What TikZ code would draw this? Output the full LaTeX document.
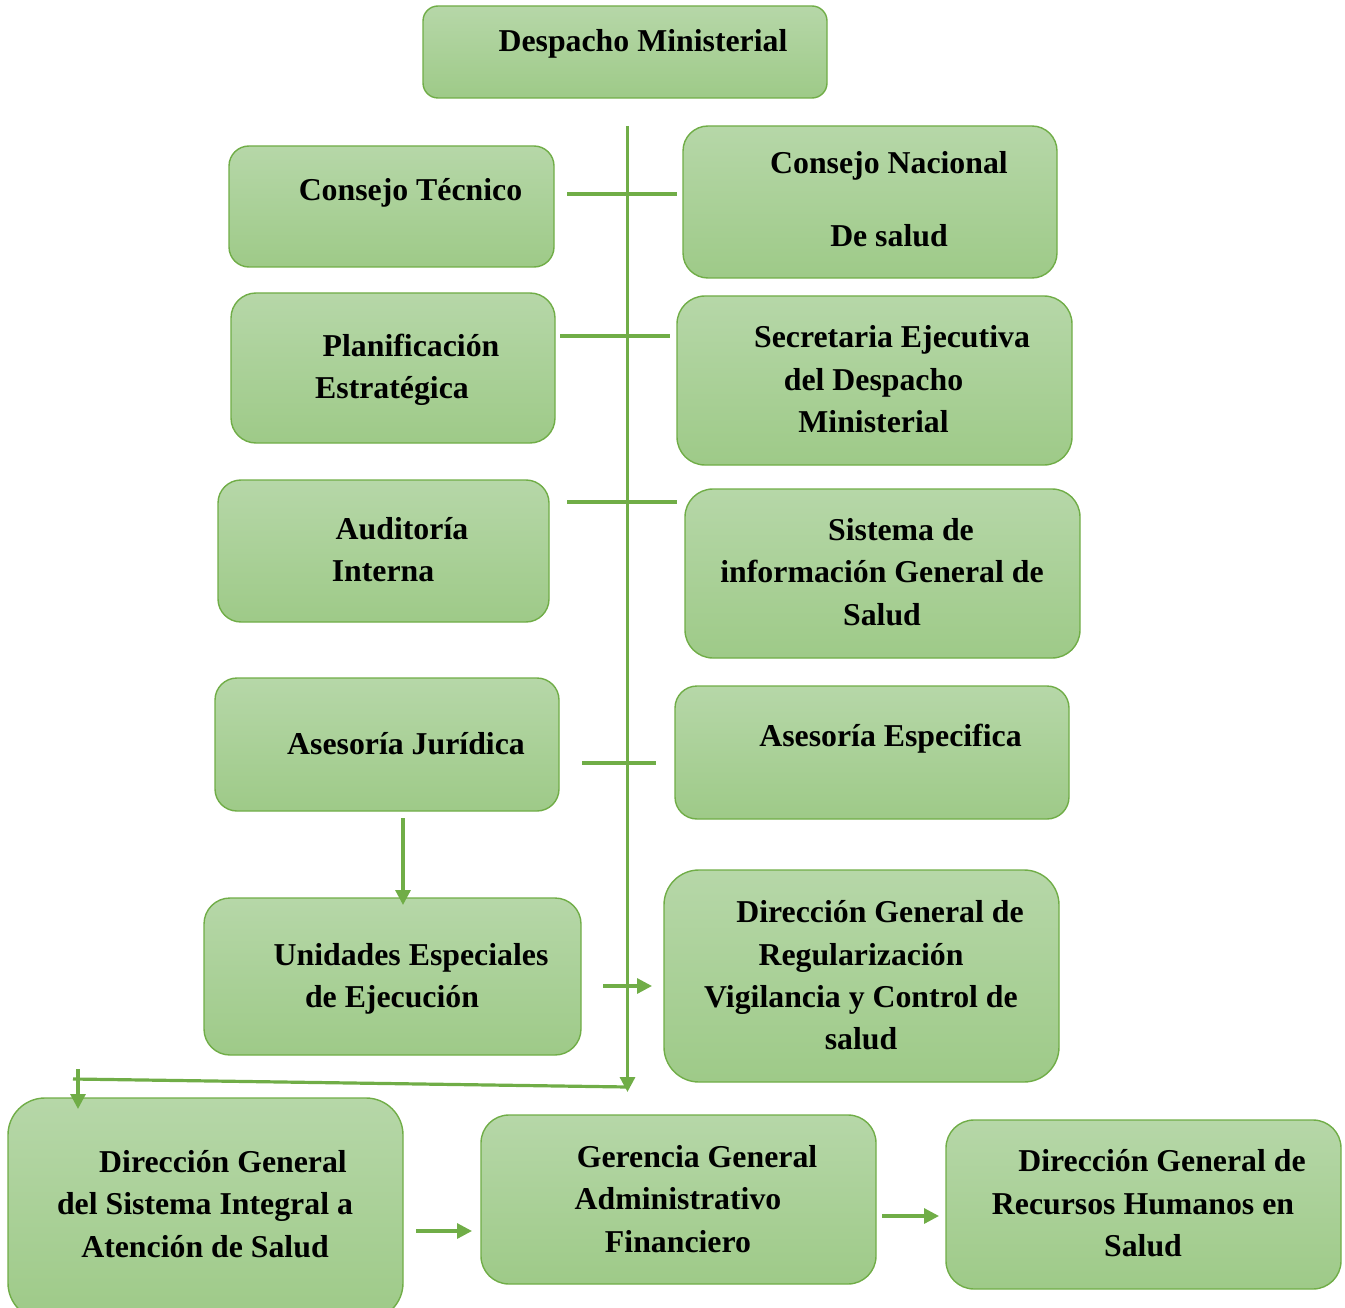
\documentclass[tikz,border=0pt]{standalone}
\usepackage{fontspec}
\setmainfont{Liberation Serif}
\usetikzlibrary{arrows.meta}
\definecolor{gTop}{RGB}{182,215,168}
\definecolor{gBot}{RGB}{158,202,136}
\definecolor{gLine}{RGB}{112,173,71}
\begin{document}
\begin{tikzpicture}[x=1pt,y=-1pt,
  box/.style={draw=gLine,line width=1.4pt,top color=gTop,bottom color=gBot,rectangle,inner sep=0pt},
  txt/.style={inner sep=0pt,align=center,font=\fontsize{31.8}{42.3}\selectfont\bfseries},
  conn/.style={draw=gLine,line width=3.2pt},
  arr/.style={conn,-{Triangle[length=15pt,width=15pt]}}]
\useasboundingbox (0,0) rectangle (1345,1308);
\begin{scope}
\clip (0,0) rectangle (1345,1308);
% boxes
\node[box,minimum width=404pt,minimum height=92pt,rounded corners=15pt] (despacho) at (625,52) {};
\node[box,minimum width=325pt,minimum height=121pt,rounded corners=20pt] (ctecnico) at (391.5,206.5) {};
\node[box,minimum width=374pt,minimum height=152pt,rounded corners=25pt] (cnacional) at (870,202) {};
\node[box,minimum width=324pt,minimum height=150pt,rounded corners=25pt] (planif) at (393,368) {};
\node[box,minimum width=395pt,minimum height=169pt,rounded corners=28pt] (secret) at (874.5,380.5) {};
\node[box,minimum width=331pt,minimum height=142pt,rounded corners=23pt] (audit) at (383.5,551) {};
\node[box,minimum width=395pt,minimum height=169pt,rounded corners=28pt] (sistema) at (882.5,573.5) {};
\node[box,minimum width=344pt,minimum height=133pt,rounded corners=22pt] (juridica) at (387,744.5) {};
\node[box,minimum width=394pt,minimum height=133pt,rounded corners=22pt] (especifica) at (872,752.5) {};
\node[box,minimum width=377pt,minimum height=157pt,rounded corners=26pt] (unidades) at (392.5,976.5) {};
\node[box,minimum width=395pt,minimum height=212pt,rounded corners=35pt] (regular) at (861.5,976) {};
\node[box,minimum width=395pt,minimum height=222pt,rounded corners=37pt] (integral) at (205.5,1209) {};
\node[box,minimum width=395pt,minimum height=169pt,rounded corners=28pt] (gerencia) at (678.5,1199.5) {};
\node[box,minimum width=395pt,minimum height=169pt,rounded corners=28pt] (rrhh) at (1143.5,1204.5) {};
\end{scope}
% texts
\node[txt] (t-despacho) at (643,43.3) {\strut Despacho Ministerial};
\node[txt] (t-ctecnico) at (410.5,192.3) {\strut Consejo Técnico};
\node[txt] (t-cnacional) at (889,201.8) {\strut Consejo Nacional\\[30.7pt]\strut De salud};
\node[txt] (t-planif) at (392,368.8) {\strut\hspace*{38pt}Planificación\\\strut Estratégica};
\node[txt] (t-secret) at (873.5,381.6) {\strut\hspace*{37pt}Secretaria Ejecutiva\\\strut del Despacho\\\strut Ministerial};
\node[txt] (t-audit) at (383,551.8) {\strut\hspace*{38pt}Auditoría\\\strut Interna};
\node[txt] (t-sistema) at (882,574.3) {\strut\hspace*{38pt}Sistema de\\\strut información General de\\\strut Salud};
\node[txt] (t-juridica) at (406,746.3) {\strut Asesoría Jurídica};
\node[txt] (t-especifica) at (890.5,738.3) {\strut Asesoría Especifica};
\node[txt] (t-unidades) at (392,977.8) {\strut\hspace*{38pt}Unidades Especiales\\\strut de Ejecución};
\node[txt] (t-regular) at (861,977.8) {\strut\hspace*{38pt}Dirección General de\\\strut Regularización\\\strut Vigilancia y Control de\\\strut salud};
\node[txt] (t-integral) at (205,1206.3) {\strut\hspace*{36pt}Dirección General\\\strut del Sistema Integral a\\\strut Atención de Salud};
\node[txt] (t-gerencia) at (678,1201.3) {\strut\hspace*{38pt}Gerencia General\\\strut Administrativo\\\strut Financiero};
\node[txt] (t-rrhh) at (1143,1205.6) {\strut\hspace*{38pt}Dirección General de\\\strut Recursos Humanos en\\\strut Salud};
% connector coordinates
\coordinate (vtop) at (627.5,126);
\coordinate (vbot) at (627.5,1092);
\coordinate (h1a) at (567,194); \coordinate (h1b) at (677,194);
\coordinate (h2a) at (560,336); \coordinate (h2b) at (670,336);
\coordinate (h3a) at (567,502); \coordinate (h3b) at (677,502);
\coordinate (h4a) at (582,763); \coordinate (h4b) at (656,763);
\coordinate (ra) at (603,986); \coordinate (rb) at (652,986);
\coordinate (ja) at (403,818); \coordinate (jb) at (403,905);
\coordinate (la) at (627.5,1087); \coordinate (lb) at (73,1079);
\coordinate (ta) at (78,1069); \coordinate (tb) at (78,1109);
\coordinate (ga) at (416,1231); \coordinate (gb) at (472,1231);
\coordinate (ea) at (882,1216); \coordinate (eb) at (939,1216);
% connectors
\draw[arr] (vtop) -- (vbot);
\draw[conn] (h1a) -- (h1b);
\draw[conn] (h2a) -- (h2b);
\draw[conn] (h3a) -- (h3b);
\draw[conn] (h4a) -- (h4b);
\draw[arr] (ra) -- (rb);
\draw[arr] (ja) -- (jb);
\draw[conn] (la) -- (lb);
\draw[arr] (ta) -- (tb);
\draw[arr] (ga) -- (gb);
\draw[arr] (ea) -- (eb);
\end{tikzpicture}
\end{document}
